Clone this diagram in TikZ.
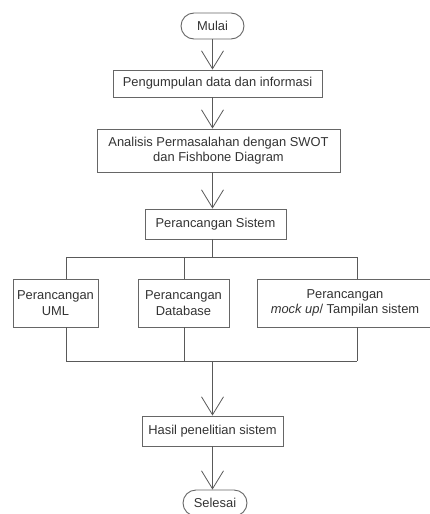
\documentclass[tikz,border=0pt]{standalone}
\usepackage{fontspec}
\setmainfont{Liberation Sans}
\usetikzlibrary{arrows.meta,positioning}

\begin{document}
\begin{tikzpicture}[x=1pt, y=-1pt,
  font=\fontsize{12.9}{15.5}\selectfont, text=black!80,
  proses/.style={rectangle, draw=black!60, line width=0.9pt, align=center, inner sep=0pt},
  terminal/.style={rectangle, rounded corners=13pt, draw=black!60, line width=0.9pt, inner sep=0pt},
  alur/.style={draw=black!65, line width=0.8pt, -{Straight Barb[length=18pt,width=22pt]}},
  garis/.style={draw=black!65, line width=0.8pt}]
  \useasboundingbox (0,0) rectangle (429,514);

  \node[terminal, minimum width=63pt, minimum height=26pt] (mulai) at (212.5,26) {Mulai};
  \node[proses, minimum width=209pt, minimum height=27pt] (kumpul) at (217.5,83.5) {Pengumpulan data dan informasi};
  \node[proses, minimum width=243pt, minimum height=43pt] (analisis) at (218.5,150.5) {Analisis Permasalahan dengan SWOT\\dan Fishbone Diagram};
  \node[proses, minimum width=141pt, minimum height=30pt] (sistem) at (215.5,224) {Perancangan Sistem};

  \node[proses, minimum width=85pt, minimum height=48pt] (uml) at (55.5,303) {Perancangan\\UML};
  \node[proses, minimum width=91pt, minimum height=48pt] (db) at (183.5,303) {Perancangan\\Database};
  \node[proses, minimum width=176pt, minimum height=48pt] (mock) at (345,303) {Perancangan\\\textit{mock up}/ Tampilan sistem};

  \node[proses, minimum width=141pt, minimum height=30pt] (hasil) at (212.5,431) {Hasil penelitian sistem};
  \node[terminal, minimum width=64pt, minimum height=26pt] (selesai) at (215,503) {Selesai};

  % titik cabang dan gabung
  \coordinate (cabang) at (212.5,257);
  \coordinate (ka1) at (66,257);
  \coordinate (ka2) at (184,257);
  \coordinate (ka3) at (357,257);
  \coordinate (gabung) at (212.5,361);
  \coordinate (kb1) at (66,361);
  \coordinate (kb2) at (184,361);
  \coordinate (kb3) at (357,361);

  \draw[alur] (mulai) -- (kumpul.north -| mulai);
  \draw[alur] (kumpul.south -| mulai) -- (analisis.north -| mulai);
  \draw[alur] (analisis.south -| mulai) -- (sistem.north -| mulai);

  \draw[garis] (sistem.south -| mulai) -- (cabang);
  \draw[garis] (ka1) -- (ka3);
  \draw[garis] (ka1) -- (ka1 |- uml.north);
  \draw[garis] (ka2) -- (ka2 |- db.north);
  \draw[garis] (ka3) -- (ka3 |- mock.north);

  \draw[garis] (uml.south -| kb1) -- (kb1);
  \draw[garis] (db.south -| kb2) -- (kb2);
  \draw[garis] (mock.south -| kb3) -- (kb3);
  \draw[garis] (kb1) -- (kb3);

  \draw[alur] (gabung) -- (hasil.north -| mulai);
  \draw[alur] (hasil.south -| mulai) -- (selesai.north -| mulai);
\end{tikzpicture}
\end{document}
